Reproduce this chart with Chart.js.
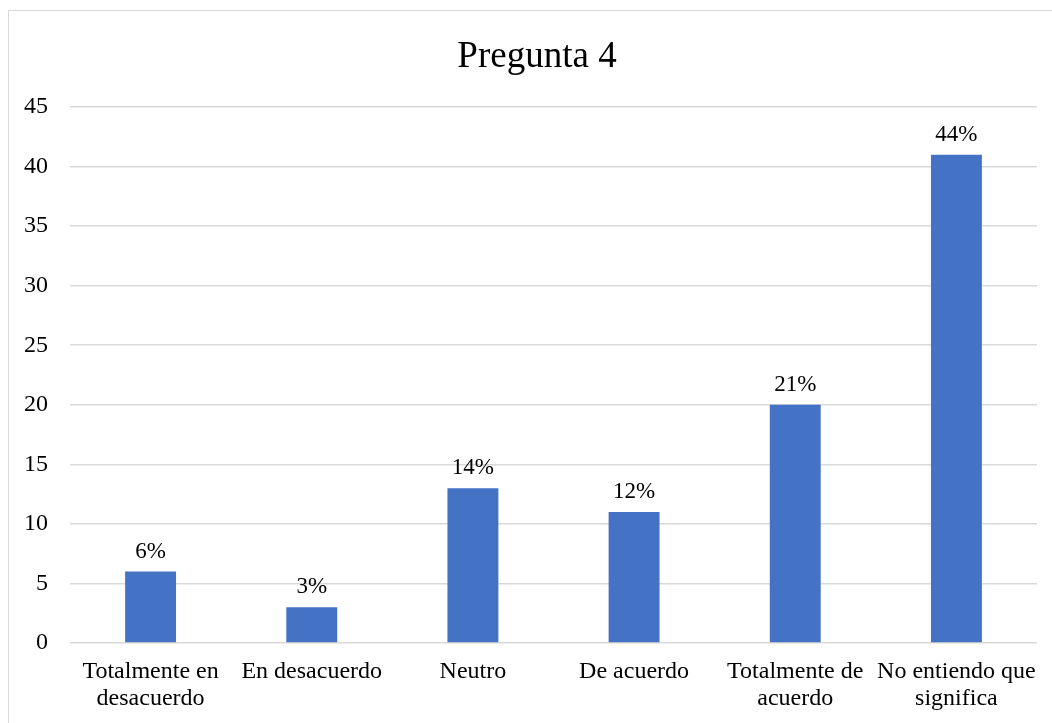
<!DOCTYPE html>
<html>
<head>
<meta charset="utf-8">
<script src="https://cdn.jsdelivr.net/npm/chart.js@4.4.1/dist/chart.umd.min.js"></script>
<style>
  html, body { margin: 0; padding: 0; background: #fff; }
  #wrap { position: relative; width: 1052px; height: 723px; overflow: hidden; }
  #frame { position: absolute; left: 8px; top: 10px; width: 1100px; height: 800px; border: 1px solid #d9d9d9; box-sizing: border-box; }
  #c { position: absolute; left: 0; top: 0; }
</style>
</head>
<body>
<div id="wrap">
  <div id="frame"></div>
  <canvas id="c" width="1052" height="723"></canvas>
</div>
<script>
const chartTitle = 'Pregunta 4';
const categories = [
  ['Totalmente en', 'desacuerdo'],
  'En desacuerdo',
  'Neutro',
  'De acuerdo',
  ['Totalmente de', 'acuerdo'],
  ['No entiendo que', 'significa']
];
const counts = [6, 3, 13, 11, 20, 41];
const percentLabels = ['6%', '3%', '14%', '12%', '21%', '44%'];
const yTickMax = 45;
const yTickStep = 5;

const FONT = "'Liberation Serif', 'Times New Roman', serif";

const titlePlugin = {
  id: 'chartTitleText',
  afterDraw(chart) {
    const ctx = chart.ctx;
    ctx.save();
    ctx.font = '37px ' + FONT;
    ctx.fillStyle = '#000';
    ctx.textAlign = 'center';
    ctx.textBaseline = 'alphabetic';
    ctx.fillText(chartTitle, 537, 67);
    ctx.restore();
  }
};

const dataLabelPlugin = {
  id: 'dataLabels',
  afterDatasetsDraw(chart) {
    const ctx = chart.ctx;
    const meta = chart.getDatasetMeta(0);
    ctx.save();
    ctx.font = '23px ' + FONT;
    ctx.fillStyle = '#000';
    ctx.textAlign = 'center';
    ctx.textBaseline = 'alphabetic';
    meta.data.forEach((bar, i) => {
      ctx.fillText(percentLabels[i], bar.x, bar.y - 14);
    });
    ctx.restore();
  }
};

new Chart(document.getElementById('c'), {
  type: 'bar',
  data: {
    labels: categories,
    datasets: [{
      data: counts,
      backgroundColor: '#4472c4',
      borderWidth: 0,
      categoryPercentage: 1,
      barPercentage: 0.316
    }]
  },
  options: {
    responsive: false,
    animation: false,
    events: [],
    layout: { padding: { left: 0, right: 15, top: 107, bottom: 13 } },
    plugins: {
      legend: { display: false },
      tooltip: { enabled: false },
      title: { display: false }
    },
    scales: {
      x: {
        afterFit(scale) { scale.height = 67; },
        grid: { display: false, drawTicks: false },
        border: { display: false },
        ticks: {
          color: '#000',
          font: { family: FONT, size: 24, lineHeight: 1.12 },
          padding: 15,
          maxRotation: 0,
          autoSkip: false
        }
      },
      y: {
        min: 0,
        max: yTickMax,
        afterFit(scale) { scale.width = 70; },
        grid: { color: '#d9d9d9', lineWidth: 1.5, drawTicks: false },
        border: { display: false },
        ticks: {
          stepSize: yTickStep,
          color: '#000',
          font: { family: FONT, size: 24 },
          padding: 22
        }
      }
    }
  },
  plugins: [dataLabelPlugin, titlePlugin]
});
</script>
</body>
</html>
